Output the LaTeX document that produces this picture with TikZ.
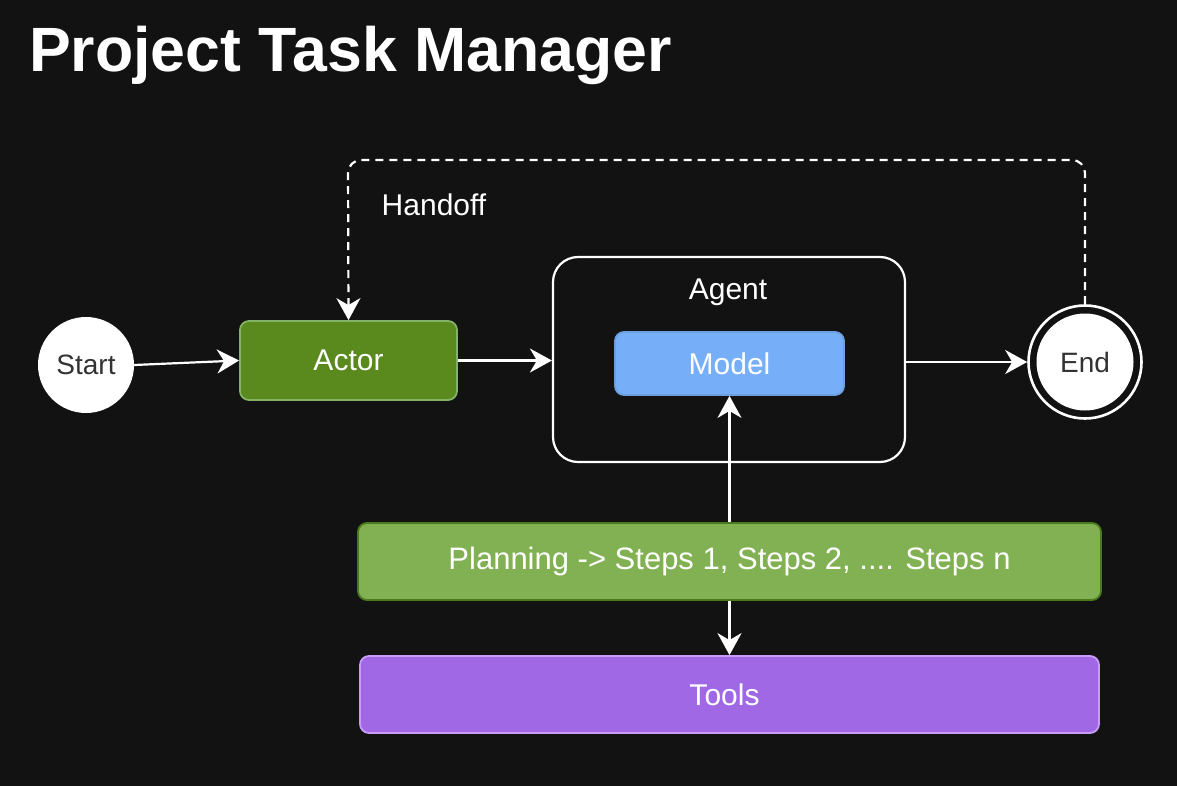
\documentclass[tikz,border=0pt]{standalone}
\usepackage{fontspec}
\setmainfont{Liberation Sans}
\usetikzlibrary{arrows.meta}
\definecolor{bg}{HTML}{121212}
\definecolor{actorfill}{HTML}{5A891D}
\definecolor{actordraw}{HTML}{82B366}
\definecolor{modelfill}{HTML}{76AFF8}
\definecolor{modeldraw}{HTML}{6C9FE0}
\definecolor{planfill}{HTML}{82B153}
\definecolor{plandraw}{HTML}{4B7A1E}
\definecolor{toolfill}{HTML}{A068E5}
\definecolor{tooldraw}{HTML}{C89CF7}
\definecolor{darktext}{HTML}{333333}
\tikzset{
  lbl/.style={font=\fontsize{30}{36}\selectfont, text=white},
  box/.style={rectangle, rounded corners=9pt, line width=1.8pt, inner sep=0pt, lbl},
  conn/.style={draw=white, line width=2.2pt, -{Stealth[length=22pt,width=24pt,inset=7pt]}},
  circ/.style={circle, fill=white, inner sep=0pt, minimum size=96pt, font=\fontsize{28}{34}\selectfont, text=darktext},
}
\begin{document}
\begin{tikzpicture}[x=1pt,y=-1pt]
\fill[bg] (0,0) rectangle (1177,786);
\useasboundingbox (0,0) rectangle (1177,786);
\node[anchor=base west, text=white, font=\fontsize{62.6}{70}\selectfont\bfseries, inner sep=0pt] (title) at (29,72) {Project Task Manager};

\node[circ] (start) at (86,365) {Start};
\node[box, fill=actorfill, draw=actordraw, minimum width=217pt, minimum height=79pt] (actor) at (348.5,360.5) {Actor};
\node[rectangle, rounded corners=25pt, draw=white, line width=2.2pt, fill=bg, minimum width=352pt, minimum height=205pt] (agent) at (729,359.5) {};
\node[lbl] (agentlbl) at (728,292) {Agent};
\node[box, fill=modelfill, draw=modeldraw, minimum width=229pt, minimum height=63pt] (model) at (729.5,363.5) {Model};
\node[circle, draw=white, line width=2.6pt, fill=bg, minimum size=113pt, inner sep=0pt] (endo) at (1085,362) {};
\node[circ, minimum size=97pt] (endn) at (1085,362) {End};
\node[box, fill=planfill, draw=plandraw, minimum width=743pt, minimum height=77pt, font=\fontsize{31}{36}\selectfont] (plan) at (729.5,561.5) {Planning -> Steps 1, Steps 2, .... Steps n};
\node[box, fill=toolfill, draw=tooldraw, minimum width=739pt, minimum height=77pt] (tools) at (729.5,694.5) {\hspace*{-10pt}Tools};

\draw[conn] (start.east) -- (actor.west);
\draw[conn] (actor.east) -- (agent.west |- actor.east);
\draw[conn] (agent.east |- endo.west) -- (endo.west);
\draw[conn] (plan.north) -- (model.south);
\draw[conn] (plan.south) -- (tools.north);

\coordinate (c1) at (1085,160);
\coordinate (c2) at (348,160);
\draw[conn, dash pattern=on 8pt off 6pt, rounded corners=13pt] (endo.north) -- (c1) -- (c2) -- (actor.north);
\node[lbl] (handoff) at (434,205) {Handoff};
\end{tikzpicture}
\end{document}
